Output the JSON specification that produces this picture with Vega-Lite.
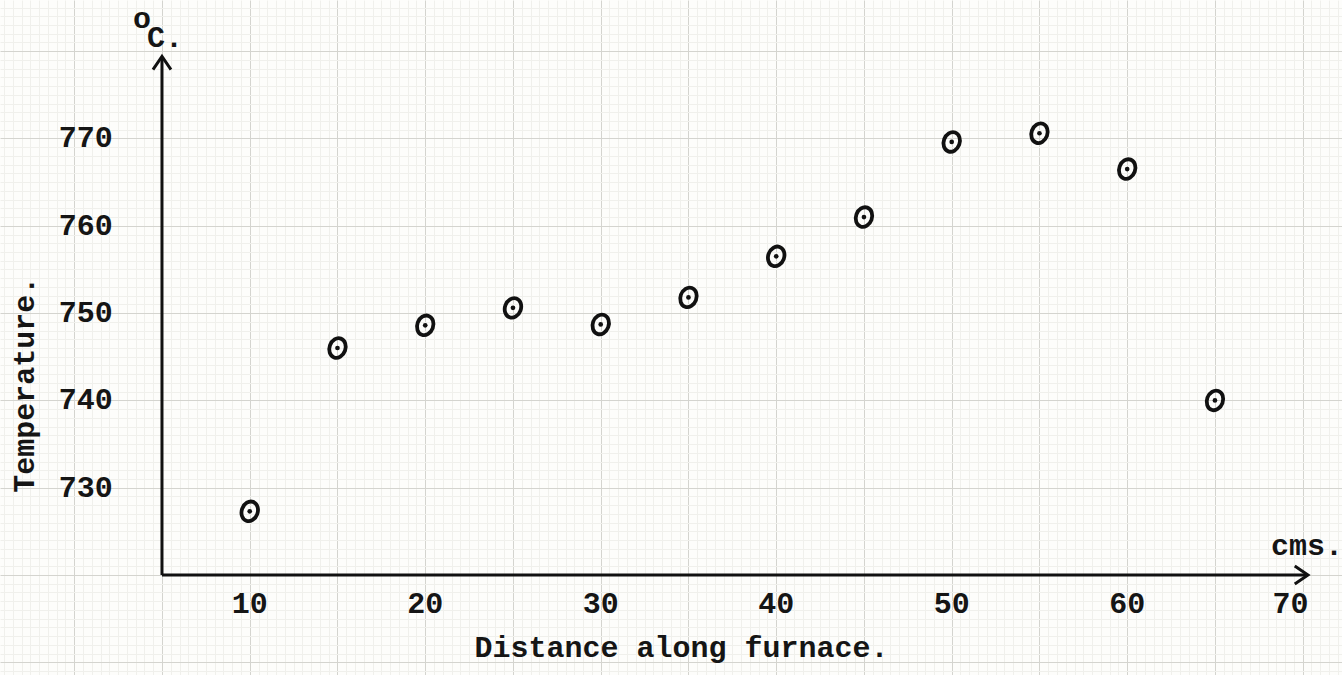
{
  "$schema": "https://vega.github.io/schema/vega-lite/v6.json",
  "width": 1342,
  "height": 675,
  "autosize": "none",
  "padding": 0,
  "background": "#fdfdfb",
  "config": {"view": {"stroke": null}, "font": "Liberation Mono"},
  "datasets": {
    "readings": [
      {"x": 10, "y": 727.3},
      {"x": 15, "y": 746.0},
      {"x": 20, "y": 748.6},
      {"x": 25, "y": 750.6},
      {"x": 30, "y": 748.7},
      {"x": 35, "y": 751.8},
      {"x": 40, "y": 756.5},
      {"x": 45, "y": 761.0},
      {"x": 50, "y": 769.6},
      {"x": 55, "y": 770.6},
      {"x": 60, "y": 766.5},
      {"x": 65, "y": 740.0}
    ],
    "axisLines": [
      {"x": 5, "y": 720, "x2": 70.2, "y2": 720},
      {"x": 5, "y": 720, "x2": 5, "y2": 779.3}
    ],
    "arrowRight": [{"x": 70.3, "y": 720}],
    "arrowUp": [{"x": 5, "y": 779.4}],
    "xLabels": [
      {"x": 10, "y": 716.7, "label": "10"},
      {"x": 20, "y": 716.7, "label": "20"},
      {"x": 30, "y": 716.7, "label": "30"},
      {"x": 40, "y": 716.7, "label": "40"},
      {"x": 50, "y": 716.7, "label": "50"},
      {"x": 60, "y": 716.7, "label": "60"},
      {"x": 69.3, "y": 716.7, "label": "70"}
    ],
    "yLabels": [
      {"x": 2.2, "y": 770, "label": "770"},
      {"x": 2.2, "y": 760, "label": "760"},
      {"x": 2.2, "y": 750, "label": "750"},
      {"x": 2.2, "y": 740, "label": "740"},
      {"x": 2.2, "y": 730, "label": "730"}
    ],
    "xTitle": [{"x": 34.6, "y": 711.6, "label": "Distance along furnace."}],
    "yTitle": [{"x": -2.8, "y": 741.8, "label": "Temperature."}],
    "units": [
      {"x": 3.35, "y": 782.7, "label": "o"},
      {"x": 4.15, "y": 780.5, "label": "C."},
      {"x": 68.2, "y": 722.3, "label": "cms."}
    ]
  },
  "encoding": {
    "x": {
      "field": "x",
      "type": "quantitative",
      "scale": {"domain": [-4.23, 72.24], "nice": false, "zero": false},
      "axis": {
        "grid": true,
        "tickCount": 150,
        "labels": false,
        "ticks": false,
        "domain": false,
        "title": null,
        "gridWidth": 1,
        "gridColor": {"condition": {"test": "datum.value % 5 === 0", "value": "#d4d4cf"}, "value": "#f0f0ec"}
      }
    },
    "y": {
      "field": "y",
      "type": "quantitative",
      "scale": {"domain": [708.55, 785.86], "nice": false, "zero": false},
      "axis": {
        "grid": true,
        "tickCount": 78,
        "labels": false,
        "ticks": false,
        "domain": false,
        "title": null,
        "gridWidth": 1,
        "gridColor": {"condition": {"test": "datum.value % 10 === 0", "value": "#d4d4cf"}, "value": "#f0f0ec"}
      }
    }
  },
  "layer": [
    {
      "data": {"name": "axisLines"},
      "mark": {"type": "rule", "color": "#111111", "strokeWidth": 3},
      "encoding": {"x2": {"field": "x2"}, "y2": {"field": "y2"}}
    },
    {
      "data": {"name": "arrowRight"},
      "mark": {"type": "point", "shape": "M-1.1,-0.75L0,0L-1.1,0.75", "filled": false, "stroke": "#111111", "strokeWidth": 3, "size": 576, "opacity": 1}
    },
    {
      "data": {"name": "arrowUp"},
      "mark": {"type": "point", "shape": "M-0.75,1.1L0,0L0.75,1.1", "filled": false, "stroke": "#111111", "strokeWidth": 3, "size": 576, "opacity": 1}
    },
    {
      "data": {"name": "readings"},
      "mark": {"type": "point", "shape": "M0.8,0A0.8,1 0 1,1 -0.8,0A0.8,1 0 1,1 0.8,0Z", "filled": false, "stroke": "#111111", "strokeWidth": 3.8, "size": 400, "angle": 20, "opacity": 1}
    },
    {
      "data": {"name": "readings"},
      "mark": {"type": "point", "shape": "circle", "filled": true, "color": "#111111", "size": 22, "opacity": 1}
    },
    {
      "data": {"name": "xLabels"},
      "mark": {"type": "text", "align": "center", "baseline": "middle", "fontSize": 30, "fontWeight": "bold", "color": "#151515"},
      "encoding": {"text": {"field": "label"}}
    },
    {
      "data": {"name": "yLabels"},
      "mark": {"type": "text", "align": "right", "baseline": "middle", "fontSize": 30, "fontWeight": "bold", "color": "#151515"},
      "encoding": {"text": {"field": "label"}}
    },
    {
      "data": {"name": "xTitle"},
      "mark": {"type": "text", "align": "center", "baseline": "middle", "fontSize": 30, "fontWeight": "bold", "color": "#151515"},
      "encoding": {"text": {"field": "label"}}
    },
    {
      "data": {"name": "yTitle"},
      "mark": {"type": "text", "align": "center", "baseline": "middle", "angle": 270, "fontSize": 30, "fontWeight": "bold", "color": "#151515"},
      "encoding": {"text": {"field": "label"}}
    },
    {
      "data": {"name": "units"},
      "mark": {"type": "text", "align": "left", "baseline": "alphabetic", "fontSize": 30, "fontWeight": "bold", "color": "#151515"},
      "encoding": {"text": {"field": "label"}}
    }
  ]
}
